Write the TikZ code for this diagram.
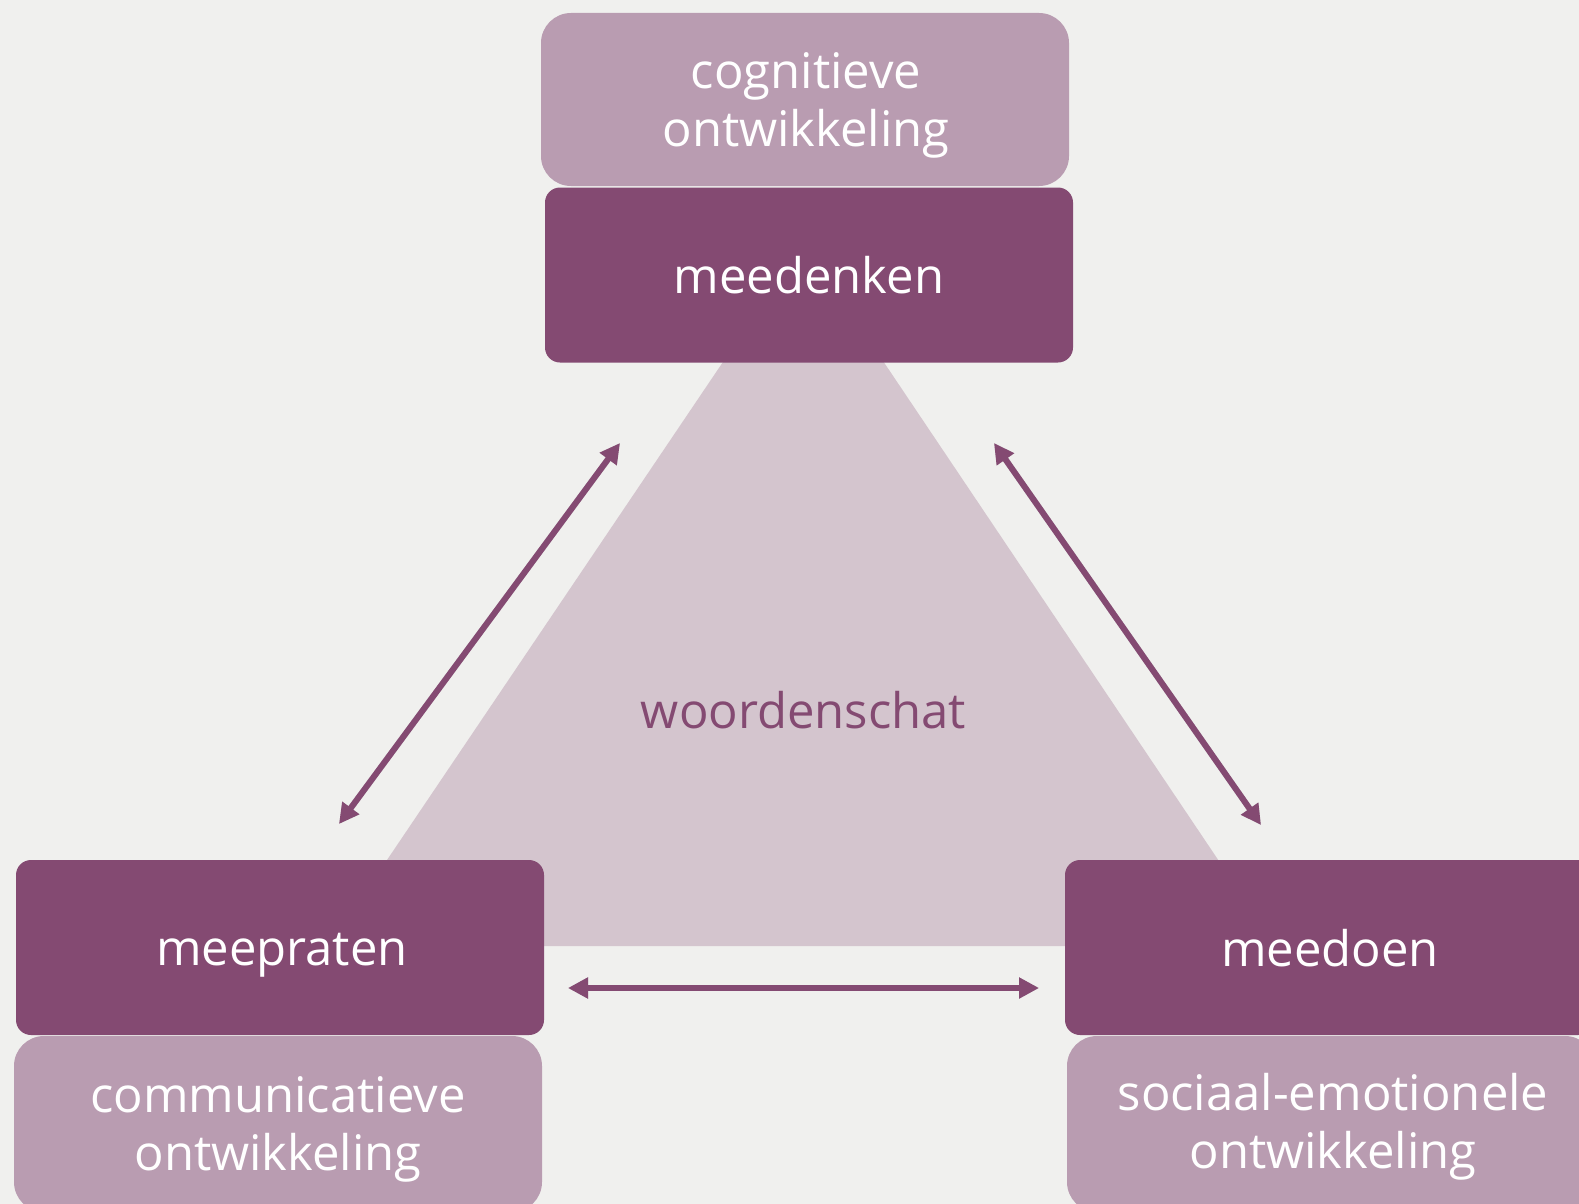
\documentclass[tikz,border=0pt]{standalone}
\usepackage{fontspec}
\setmainfont{Open Sans}
\usetikzlibrary{arrows.meta}
\definecolor{bg}{HTML}{F0F0EE}
\definecolor{dark}{HTML}{844A72}
\definecolor{light}{HTML}{B99CB1}
\definecolor{tri}{HTML}{D4C5CE}
\newcommand{\labfont}{\fontsize{24.5}{29}\selectfont}
\tikzset{
  darkbox/.style={fill=dark, rounded corners=7.5pt, minimum width=264pt, minimum height=87.5pt, inner sep=0pt},
  lightbox/.style={fill=light, rounded corners=15pt, minimum width=264pt, minimum height=86.5pt, inner sep=0pt},
  lab/.style={text=white, font=\labfont, align=center, inner sep=0pt},
  linkarrow/.style={line width=3pt, {Triangle[length=10pt,width=10pt]}-{Triangle[length=10pt,width=10pt]}},
  link/.style={draw=dark, linkarrow},
  linkshadow/.style={draw=black, opacity=0.13, linkarrow, shift={(2,2.5)}}
}
\begin{document}
\begin{tikzpicture}[x=0.5pt,y=-0.5pt]
\clip (0,0) rectangle (1579,1204);
\fill[bg] (0,0) rectangle (1579,1204);
% triangle
\fill[tri] (803.5,242.6) -- (329,946) -- (1276,946) -- cycle;
\node[lab, text=dark] (woord) at (803.5,716.4) {\strut woordenschat};
% top
\node[lightbox] (cogbox) at (805,99.5) {};
\node[darkbox] (denkbox) at (809,275) {};
\node[lab] (cog) at (806,106.4) {\strut cognitieve\\\strut ontwikkeling};
\node[lab] (denk) at (809,281.4) {\strut meedenken};
% bottom left
\node[lightbox, minimum height=88pt] (commbox) at (278,1124) {};
\node[darkbox] (pratbox) at (280,947.5) {};
\node[lab] (comm) at (278,1129.4) {\strut communicatieve\\\strut ontwikkeling};
\node[lab] (prat) at (282,953.4) {\strut meepraten};
% bottom right
\node[lightbox, minimum height=88pt] (socbox) at (1331,1124) {};
\node[darkbox] (doenbox) at (1329,947.5) {};
\node[lab] (soc) at (1333,1127.4) {\strut sociaal-emotionele\\\strut ontwikkeling};
\node[lab] (doen) at (1330,954.4) {\strut meedoen};
% arrow ends
\coordinate (l1) at (339,824);
\coordinate (l2) at (620,443);
\coordinate (r1) at (994,443);
\coordinate (r2) at (1261,825);
\coordinate (h1) at (568,988);
\coordinate (h2) at (1039,988);
\draw[linkshadow] (l1) -- (l2);
\draw[linkshadow] (r1) -- (r2);
\draw[linkshadow] (h1) -- (h2);
\draw[link] (l1) -- (l2);
\draw[link] (r1) -- (r2);
\draw[link] (h1) -- (h2);
\end{tikzpicture}
\end{document}
